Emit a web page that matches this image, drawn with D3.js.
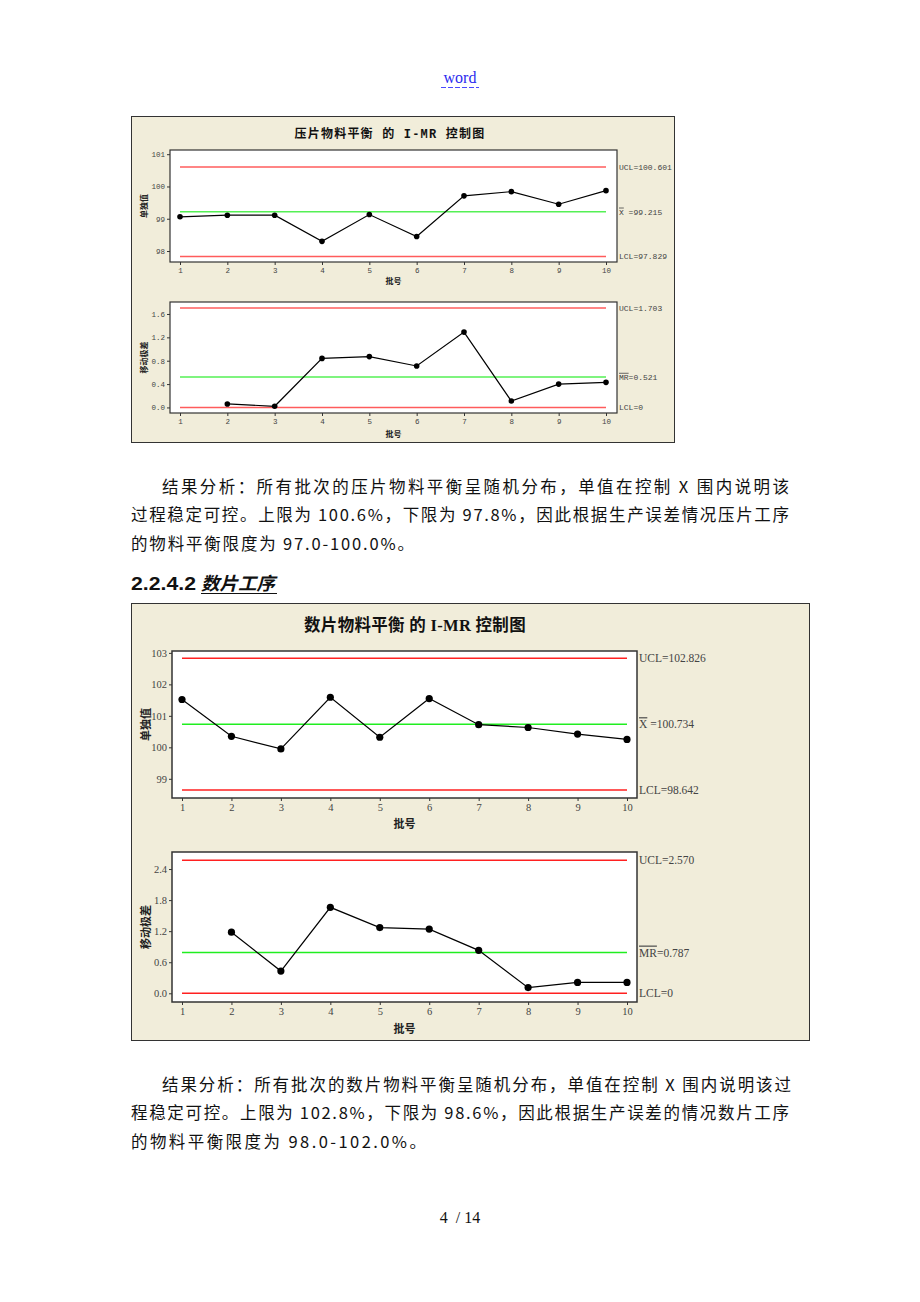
<!DOCTYPE html>
<html>
<head>
<meta charset="utf-8">
<script src="https://cdn.jsdelivr.net/npm/d3@7/dist/d3.min.js"></script>
<style>
  html, body { margin: 0; padding: 0; background: #ffffff; }
  svg { display: block; }
</style>
</head>
<body>
<svg id="page" width="920" height="1302"></svg>
<script>
// ---------------- DATA ----------------
const batches = [1, 2, 3, 4, 5, 6, 7, 8, 9, 10];

// 压片 (tablet pressing)
const pressIndividual = [99.06, 99.11, 99.11, 98.30, 99.13, 98.45, 99.71, 99.84, 99.45, 99.87];
const pressMovingRange = [null, 0.06, 0.02, 0.84, 0.87, 0.71, 1.29, 0.11, 0.40, 0.43];
const pressILimits = { ucl: 100.601, center: 99.215, lcl: 97.829 };
const pressMRLimits = { ucl: 1.703, center: 0.521, lcl: 0 };
const pressITicks = [98, 99, 100, 101];
const pressMRTicks = [0.0, 0.4, 0.8, 1.2, 1.6];

// 数片 (tablet counting)
const countIndividual = [101.52, 100.35, 99.95, 101.59, 100.32, 101.55, 100.72, 100.63, 100.42, 100.25];
const countMovingRange = [null, 1.18, 0.43, 1.66, 1.27, 1.24, 0.83, 0.11, 0.21, 0.21];
const countILimits = { ucl: 102.826, center: 100.734, lcl: 98.642 };
const countMRLimits = { ucl: 2.570, center: 0.787, lcl: 0 };
const countITicks = [99, 100, 101, 102, 103];
const countMRTicks = [0.0, 0.6, 1.2, 1.8, 2.4];

// ---------------- TEXT ----------------
const pressTitle = "压片物料平衡 的 I-MR 控制图";
const countTitle = "数片物料平衡 的 I-MR 控制图";
const yLabelI = "单独值";
const yLabelMR = "移动极差";
const xLabel = "批号";

const para1 = [
  "结果分析：所有批次的压片物料平衡呈随机分布，单值在控制 X 围内说明该",
  "过程稳定可控。上限为 100.6%，下限为 97.8%，因此根据生产误差情况压片工序",
  "的物料平衡限度为 97.0-100.0%。"
];
const headingNum = "2.2.4.2";
const headingText = "数片工序";
const para2 = [
  "结果分析：所有批次的数片物料平衡呈随机分布，单值在控制 X 围内说明该过",
  "程稳定可控。上限为 102.8%，下限为 98.6%，因此根据生产误差的情况数片工序",
  "的物料平衡限度为 98.0-102.0%。"
];

// ---------------- DRAW ----------------
const svg = d3.select("#page");
const cjk = "'Noto Sans CJK SC', 'Noto Sans', sans-serif";

// header "word"
svg.append("text").attr("x", 460).attr("y", 83).attr("text-anchor", "middle")
  .attr("font-family", "'Liberation Serif', 'DejaVu Serif', serif").attr("font-size", 16)
  .attr("fill", "#2a2aee").text("word");
svg.append("line").attr("x1", 441).attr("x2", 479).attr("y1", 87.5).attr("y2", 87.5)
  .attr("stroke", "#4a4aff").attr("stroke-width", 1).attr("stroke-dasharray", "5,2");

// page number
svg.append("text").attr("x", 460).attr("y", 1223).attr("text-anchor", "middle")
  .attr("font-family", "'Liberation Serif', 'DejaVu Serif', serif").attr("font-size", 16)
  .attr("fill", "#111").attr("xml:space", "preserve").text("4  / 14");

function paragraph(lines, startY, spans) {
  lines.forEach((t, i) => {
    svg.append("text")
      .attr("x", spans[i][0]).attr("y", startY + i * 28.3)
      .attr("font-family", cjk).attr("font-size", 16.5).attr("fill", "#111")
      .attr("textLength", spans[i][1] - spans[i][0]).attr("lengthAdjust", "spacing")
      .text(t);
  });
}
paragraph(para1, 493, [[162, 789], [131, 789], [131, 414]]);
paragraph(para2, 1091, [[162, 791], [131, 789], [131, 426]]);

// heading
svg.append("text").attr("x", 131).attr("y", 590)
  .attr("font-family", "'Liberation Sans', 'DejaVu Sans', sans-serif")
  .attr("font-size", 18).attr("font-weight", "bold").attr("fill", "#111")
  .attr("textLength", 65).attr("lengthAdjust", "spacingAndGlyphs").text(headingNum);
svg.append("text").attr("x", 201).attr("y", 590)
  .attr("font-family", cjk).attr("font-size", 18).attr("font-weight", "bold")
  .attr("font-style", "italic").attr("fill", "#111")
  .attr("textLength", 74).attr("lengthAdjust", "spacingAndGlyphs").text(headingText);
svg.append("line").attr("x1", 201).attr("x2", 277).attr("y1", 593.5).attr("y2", 593.5)
  .attr("stroke", "#111").attr("stroke-width", 1.2);

function chart(cfg) {
  // frame
  svg.append("rect").attr("x", cfg.frame[0] + 0.5).attr("y", cfg.frame[1] + 0.5)
    .attr("width", cfg.frame[2] - cfg.frame[0]).attr("height", cfg.frame[3] - cfg.frame[1])
    .attr("fill", "#f1edda").attr("stroke", "#333").attr("stroke-width", 1);
  svg.append("text").attr("x", cfg.titleX).attr("y", cfg.titleY).attr("text-anchor", "middle")
    .attr("font-family", cfg.titleFont).attr("font-size", cfg.titleSize).attr("font-weight", "bold")
    .attr("letter-spacing", cfg.titleSpacing).attr("fill", "#111").attr("xml:space", "preserve")
    .text(cfg.title);

  const x = d3.scaleLinear().domain([1, 10]).range([cfg.xFirst, cfg.xLast]);

  cfg.panels.forEach(p => {
    const y = d3.scaleLinear().domain(p.domain).range([p.box[1], p.box[0]]);
    const g = svg.append("g");
    // plot area
    g.append("rect").attr("x", cfg.boxX[0]).attr("y", p.box[0])
      .attr("width", cfg.boxX[1] - cfg.boxX[0]).attr("height", p.box[1] - p.box[0])
      .attr("fill", "#fff").attr("stroke", "#333").attr("stroke-width", cfg.boxStroke);

    // axes
    const ya = g.append("g").attr("transform", `translate(${cfg.boxX[0]},0)`)
      .call(d3.axisLeft(y).tickValues(p.ticks).tickFormat(p.fmt).tickSize(3).tickPadding(2));
    const xa = g.append("g").attr("transform", `translate(0,${p.box[1]})`)
      .call(d3.axisBottom(x).tickValues(batches).tickFormat(d3.format("d")).tickSize(3).tickPadding(cfg.xTickPad));
    [ya, xa].forEach(a => {
      a.select(".domain").remove();
      a.selectAll("line").attr("stroke", "#333");
      a.selectAll("text").attr("font-family", cfg.tickFont).attr("font-size", cfg.tickSize).attr("fill", "#444");
    });

    // limit lines
    const lim = [
      { v: p.limits.ucl, c: cfg.red },
      { v: p.limits.center, c: cfg.green },
      { v: p.limits.lcl, c: cfg.red }
    ];
    g.selectAll(".lim").data(lim).join("line")
      .attr("x1", x(1)).attr("x2", x(10))
      .attr("y1", d => y(d.v)).attr("y2", d => y(d.v))
      .attr("stroke", d => d.c).attr("stroke-width", cfg.limWidth);

    // right labels
    const lab = (v) => g.append("text").attr("x", cfg.boxX[1] + 2).attr("y", y(v))
      .attr("dy", "0.35em").attr("font-family", cfg.labFont).attr("font-size", cfg.labSize)
      .attr("fill", "#444").attr("xml:space", "preserve");
    lab(p.limits.ucl).text("UCL=" + d3.format(".3f")(p.limits.ucl));
    const c = lab(p.limits.center);
    c.append("tspan").attr("text-decoration", "overline").text(p.centerSym);
    c.append("tspan").text(p.centerSep + d3.format(".3f")(p.limits.center));
    lab(p.limits.lcl).text("LCL=" + (p.limits.lcl === 0 ? "0" : d3.format(".3f")(p.limits.lcl)));

    // data
    const pts = batches.map((b, i) => ({ b, v: p.values[i] })).filter(d => d.v != null);
    g.append("path").datum(pts)
      .attr("d", d3.line().x(d => x(d.b)).y(d => y(d.v)))
      .attr("fill", "none").attr("stroke", "#000").attr("stroke-width", 1.2);
    g.selectAll(".pt").data(pts).join("circle")
      .attr("cx", d => x(d.b)).attr("cy", d => y(d.v)).attr("r", cfg.r).attr("fill", "#000");

    // axis titles
    g.append("text").attr("x", (cfg.boxX[0] + cfg.boxX[1]) / 2).attr("y", p.xLabelY)
      .attr("text-anchor", "middle").attr("font-family", cjk).attr("font-weight", "bold")
      .attr("font-size", cfg.axisLabSize).attr("fill", "#222").text(xLabel);
    const cy = (p.box[0] + p.box[1]) / 2;
    g.append("text").attr("transform", `translate(${cfg.yLabelX},${cy}) rotate(-90)`)
      .attr("text-anchor", "middle").attr("dy", "0.35em").attr("font-family", cjk).attr("font-weight", "bold")
      .attr("font-size", cfg.axisLabSize).attr("fill", "#222").text(p.yLabel);
  });
}

const fmt1 = d3.format(".1f");

chart({
  frame: [131, 116, 674, 442],
  title: pressTitle, titleX: 390, titleY: 138, titleSize: 12, titleSpacing: 1.2,
  titleFont: "'Liberation Mono', 'Noto Sans CJK SC', monospace",
  boxX: [170, 617], xFirst: 180, xLast: 606, boxStroke: 1.2,
  tickFont: "'Liberation Mono', monospace", tickSize: 7.5, xTickPad: 3,
  labFont: "'Liberation Mono', monospace", labSize: 8,
  red: "#ff5c5c", green: "#55f055", limWidth: 1.4, r: 2.8,
  axisLabSize: 8, yLabelX: 144,
  panels: [
    { box: [150, 262], domain: [97.66, 101.13], ticks: pressITicks, fmt: d3.format("d"),
      limits: pressILimits, values: pressIndividual, centerSym: "X", centerSep: " =",
      xLabelY: 284, yLabel: yLabelI },
    { box: [302, 413], domain: [-0.095, 1.805], ticks: pressMRTicks, fmt: fmt1,
      limits: pressMRLimits, values: pressMovingRange, centerSym: "MR", centerSep: "=",
      xLabelY: 437, yLabel: yLabelMR }
  ]
});

chart({
  frame: [131, 603, 809, 1040],
  title: countTitle, titleX: 415, titleY: 631, titleSize: 16.5, titleSpacing: 0.3,
  titleFont: "'Liberation Serif', 'Noto Sans CJK SC', serif",
  boxX: [172, 637], xFirst: 182, xLast: 627, boxStroke: 1.5,
  tickFont: "'Liberation Serif', serif", tickSize: 10.5, xTickPad: 3,
  labFont: "'Liberation Serif', serif", labSize: 11.5,
  red: "#ff2020", green: "#20ee20", limWidth: 1.5, r: 3.6,
  axisLabSize: 11, yLabelX: 146,
  panels: [
    { box: [651, 798], domain: [98.39, 103.06], ticks: countITicks, fmt: d3.format("d"),
      limits: countILimits, values: countIndividual, centerSym: "X", centerSep: " =",
      xLabelY: 828, yLabel: yLabelI },
    { box: [852, 1002], domain: [-0.168, 2.729], ticks: countMRTicks, fmt: fmt1,
      limits: countMRLimits, values: countMovingRange, centerSym: "MR", centerSep: "=",
      xLabelY: 1033, yLabel: yLabelMR }
  ]
});
</script>
</body>
</html>
